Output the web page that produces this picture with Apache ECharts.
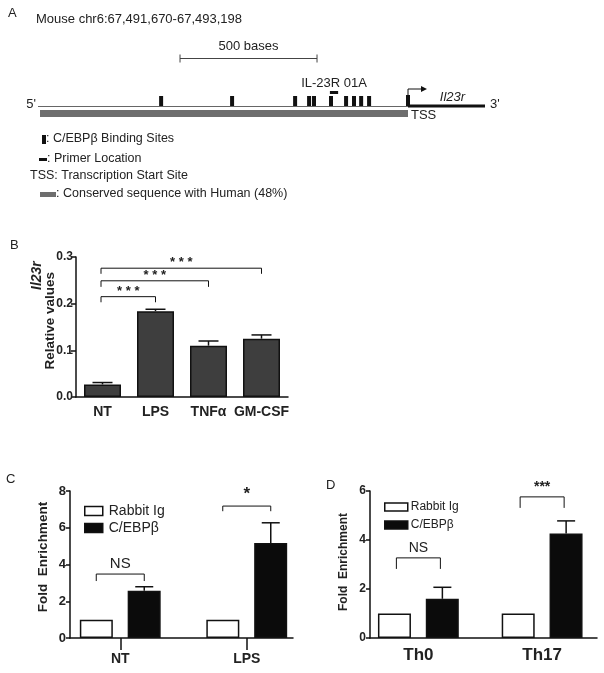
<!DOCTYPE html>
<html>
<head>
<meta charset="utf-8">
<script src="https://cdn.jsdelivr.net/npm/echarts@6/dist/echarts.min.js"></script>
<style>
html, body { margin: 0; padding: 0; background: #fff; }
#chart { width: 604px; height: 673px; }
</style>
</head>
<body>
<div id="chart"></div>
<script>
// ---- panel A: promoter map, positions in bases from chr6:67,491,670
var regionLabel = 'Mouse chr6:67,491,670-67,493,198'
var trackEnd = 1624
var tssPos = 1343
var bindingSites = [442, 701, 931, 982, 1000, 1062, 1117, 1146, 1172, 1201]
var primerSite = [1058, 1088]
var conservedSpan = [0, 1343]
var scaleBar = [511, 1011]

// ---- panel B: Il23r relative values
var bCats = ['NT', 'LPS', 'TNFα', 'GM-CSF']
var bMeans = [0.027, 0.184, 0.110, 0.125]
var bErr = [0.004, 0.004, 0.010, 0.008]
var bTicks = [0, 0.1, 0.2, 0.3]
var bBracketFrom = [0, 0, 0]
var bBracketTo = [1, 2, 3]
var bBracketTop = [0.215, 0.249, 0.276]
var bBracketLeg = [0.203, 0.236, 0.264]

// ---- panel C: ChIP, NT vs LPS
var cCats = ['NT', 'LPS']
var cRabbit = [1, 1]
var cCebpb = [2.57, 5.17]
var cCebpbErr = [0.22, 1.1]
var cSig = ['NS', '*']
var cBracketTop = [3.48, 7.18]
var cBracketLeg = [3.1, 6.9]

// ---- panel D: ChIP, Th0 vs Th17
var dCats = ['Th0', 'Th17']
var dRabbit = [1, 1]
var dCebpb = [1.6, 4.27]
var dCebpbErr = [0.47, 0.51]
var dSig = ['NS', '***']
var dBracketTop = [3.27, 5.76]
var dBracketLeg = [2.82, 5.31]

var FONT = 'Liberation Sans, Arial, sans-serif'
var INK = '#111'

var chart = echarts.init(document.getElementById('chart'))

function txt(x, y, text, size, extra) {
	var s = { text: text, fill: '#222', font: (extra && extra.weight || 'normal') + ' ' + size + 'px ' + FONT }
	s.textAlign = (extra && extra.align) || 'left'
	s.textVerticalAlign = 'middle'
	var el = { type: 'text', x: x, y: y, style: s }
	if (extra && extra.rotate) el.rotation = extra.rotate
	return el
}

// error bars on top of the black bars (offset = half bar + half gap)
function errRender(offset, cap) {
	return function (params, api) {
		var c = api.coord([api.value(0), api.value(1)])
		var t = api.coord([api.value(0), api.value(1) + api.value(2)])
		var x = c[0] + offset
		return {
			type: 'group',
			children: [
				{ type: 'line', shape: { x1: x, y1: c[1], x2: x, y2: t[1] }, style: { stroke: INK, lineWidth: 1.5 } },
				{ type: 'line', shape: { x1: x - cap / 2, y1: t[1], x2: x + cap / 2, y2: t[1] }, style: { stroke: INK, lineWidth: 1.5 } }
			]
		}
	}
}

// pair brackets inside one category
function pairBracket(tops, legs, labels, half, fonts) {
	return function (params, api) {
		var i = params.dataIndex
		var p = api.coord([i, tops[i]])
		var q = api.coord([i, legs[i]])
		var x1 = p[0] - half, x2 = p[0] + half
		return {
			type: 'group',
			children: [
				{ type: 'polyline', shape: { points: [[x1, q[1]], [x1, p[1]], [x2, p[1]], [x2, q[1]]] }, style: { stroke: INK, lineWidth: 1, fill: null } },
				{ type: 'text', x: p[0], y: p[1] - 3, style: { text: labels[i], font: fonts[i], fill: '#222', textAlign: 'center', textVerticalAlign: 'bottom' } }
			]
		}
	}
}

var legendCommon = {
	orient: 'vertical', icon: 'rect', selectedMode: false,
	data: ['Rabbit Ig', 'C/EBPβ'],
	itemStyle: { borderColor: INK, borderWidth: 1.5 }
}

var option = {
	animation: false,
	grid: [
		{ left: 40, width: 445, top: 56, height: 50 },
		{ left: 76, width: 212, top: 257, height: 140 },
		{ left: 70, width: 223, top: 491, height: 147 },
		{ left: 57, width: 253, top: 491, height: 147 },
		{ left: 370, width: 227, top: 491, height: 147 },
		{ left: 356.5, width: 256, top: 491, height: 147 }
	],
	xAxis: [
		{ gridIndex: 0, type: 'value', min: 0, max: trackEnd, show: false },
		{
			gridIndex: 1, type: 'category', data: bCats,
			axisLine: { lineStyle: { color: INK, width: 1.5 } },
			axisTick: { alignWithLabel: true, length: 4, lineStyle: { color: INK, width: 1.5 } },
			axisLabel: { interval: 0, color: '#222', fontFamily: FONT, fontWeight: 'bold', fontSize: 14, margin: 8 }
		},
		{
			gridIndex: 2, type: 'value', min: 0, max: 1,
			axisLine: { show: true, lineStyle: { color: INK, width: 1.5 } },
			axisTick: { show: false }, axisLabel: { show: false }, splitLine: { show: false }
		},
		{
			gridIndex: 3, type: 'category', data: cCats,
			axisLine: { show: false },
			axisTick: { show: true, interval: 0, alignWithLabel: true, length: 12, lineStyle: { color: INK, width: 1.5 } },
			axisLabel: { interval: 0, color: '#222', fontFamily: FONT, fontWeight: 'bold', fontSize: 14, margin: 14 }
		},
		{
			gridIndex: 4, type: 'value', min: 0, max: 1,
			axisLine: { show: true, lineStyle: { color: INK, width: 1.5 } },
			axisTick: { show: false }, axisLabel: { show: false }, splitLine: { show: false }
		},
		{
			gridIndex: 5, type: 'category', data: dCats,
			axisLine: { show: false }, axisTick: { show: false },
			axisLabel: { interval: 0, color: '#222', fontFamily: FONT, fontWeight: 'bold', fontSize: 17, margin: 9 }
		}
	],
	yAxis: [
		{ gridIndex: 0, type: 'value', min: 0, max: 1, show: false },
		{
			gridIndex: 1, type: 'value', min: bTicks[0], max: bTicks[bTicks.length - 1], interval: 0.1,
			axisLine: { show: true, lineStyle: { color: INK, width: 1.5 } },
			axisTick: { show: true, length: 5, lineStyle: { color: INK, width: 1.5 } },
			axisLabel: { color: '#222', fontFamily: FONT, fontWeight: 'bold', fontSize: 12, margin: 3, formatter: function (v) { return v.toFixed(1) } },
			splitLine: { show: false }
		},
		{
			gridIndex: 2, type: 'value', min: 0, max: 8, interval: 2,
			axisLine: { show: true, lineStyle: { color: INK, width: 1.5 } },
			axisTick: { show: true, length: 4, lineStyle: { color: INK, width: 1.5 } },
			axisLabel: { color: '#222', fontFamily: FONT, fontWeight: 'bold', fontSize: 13, margin: 4 },
			splitLine: { show: false }
		},
		{ gridIndex: 3, type: 'value', min: 0, max: 8, show: false },
		{
			gridIndex: 4, type: 'value', min: 0, max: 6, interval: 2,
			axisLine: { show: true, lineStyle: { color: INK, width: 1.5 } },
			axisTick: { show: true, length: 4, lineStyle: { color: INK, width: 1.5 } },
			axisLabel: { color: '#222', fontFamily: FONT, fontWeight: 'bold', fontSize: 12, margin: 4 },
			splitLine: { show: false }
		},
		{ gridIndex: 5, type: 'value', min: 0, max: 6, show: false }
	],
	legend: [
		Object.assign({}, legendCommon, {
			left: 79, top: 499, itemWidth: 18, itemHeight: 9, itemGap: 3,
			textStyle: { fontFamily: FONT, fontSize: 14, color: '#222', padding: [0, 0, 0, 1] }
		}),
		Object.assign({}, legendCommon, {
			left: 379, top: 496, itemWidth: 23, itemHeight: 8, itemGap: 6,
			textStyle: { fontFamily: FONT, fontSize: 12, color: '#222', padding: [0, 0, 0, -2] }
		})
	],
	series: [
		// ---- A: genomic track
		{
			type: 'custom', xAxisIndex: 0, yAxisIndex: 0, clip: false, silent: true,
			data: [[0, tssPos, trackEnd]],
			renderItem: function (params, api) {
				var a = api.coord([api.value(0), 0])
				var t = api.coord([api.value(1), 0])
				var e = api.coord([api.value(2), 0])
				return {
					type: 'group',
					children: [
						{ type: 'line', shape: { x1: a[0] - 2, y1: a[1] + 0.5, x2: t[0], y2: t[1] + 0.5 }, style: { stroke: '#666', lineWidth: 1 } },
						{ type: 'line', shape: { x1: t[0], y1: t[1], x2: e[0], y2: e[1] }, style: { stroke: INK, lineWidth: 3 } },
						{ type: 'text', x: a[0] - 4, y: a[1] - 2, style: { text: "5'", font: '13px ' + FONT, fill: '#222', textAlign: 'right', textVerticalAlign: 'middle' } },
						{ type: 'text', x: e[0] + 5, y: e[1] - 2, style: { text: "3'", font: '13px ' + FONT, fill: '#222', textAlign: 'left', textVerticalAlign: 'middle' } },
						{ type: 'text', x: (t[0] + e[0]) / 2 + 6, y: t[1] - 9, style: { text: 'Il23r', font: 'italic 13px ' + FONT, fill: '#222', textAlign: 'center', textVerticalAlign: 'middle' } }
					]
				}
			}
		},
		{
			type: 'custom', xAxisIndex: 0, yAxisIndex: 0, clip: false, silent: true,
			data: [conservedSpan],
			renderItem: function (params, api) {
				var a = api.coord([api.value(0), 0])
				var b = api.coord([api.value(1), 0])
				return {
					type: 'group',
					children: [
						{ type: 'rect', shape: { x: a[0], y: a[1] + 4, width: b[0] - a[0], height: 7 }, style: { fill: '#6e6e6e' } },
						{ type: 'text', x: b[0] + 3, y: b[1] + 9, style: { text: 'TSS', font: '13px ' + FONT, fill: '#222', textAlign: 'left', textVerticalAlign: 'middle' } }
					]
				}
			}
		},
		{
			type: 'custom', xAxisIndex: 0, yAxisIndex: 0, clip: false, silent: true,
			data: bindingSites.map(function (p) { return [p] }),
			renderItem: function (params, api) {
				var p = api.coord([api.value(0), 0])
				return { type: 'rect', shape: { x: p[0] - 2, y: p[1] - 10, width: 4, height: 10 }, style: { fill: INK } }
			}
		},
		{
			type: 'custom', xAxisIndex: 0, yAxisIndex: 0, clip: false, silent: true,
			data: [[tssPos]],
			renderItem: function (params, api) {
				var p = api.coord([api.value(0), 0])
				var x = p[0]
				return {
					type: 'group',
					children: [
						{ type: 'rect', shape: { x: x - 2, y: p[1] - 11, width: 4, height: 11 }, style: { fill: INK } },
						{ type: 'polyline', shape: { points: [[x, p[1] - 11], [x, p[1] - 17], [x + 14, p[1] - 17]] }, style: { stroke: INK, lineWidth: 1, fill: null } },
						{ type: 'polygon', shape: { points: [[x + 19, p[1] - 17], [x + 13, p[1] - 20], [x + 13, p[1] - 14]] }, style: { fill: INK } }
					]
				}
			}
		},
		{
			type: 'custom', xAxisIndex: 0, yAxisIndex: 0, clip: false, silent: true,
			data: [primerSite],
			renderItem: function (params, api) {
				var a = api.coord([api.value(0), 0])
				var b = api.coord([api.value(1), 0])
				return {
					type: 'group',
					children: [
						{ type: 'rect', shape: { x: a[0], y: a[1] - 15, width: b[0] - a[0], height: 3 }, style: { fill: INK } },
						{ type: 'text', x: (a[0] + b[0]) / 2, y: a[1] - 23, style: { text: 'IL-23R 01A', font: '13px ' + FONT, fill: '#222', textAlign: 'center', textVerticalAlign: 'middle' } }
					]
				}
			}
		},
		{
			type: 'custom', xAxisIndex: 0, yAxisIndex: 0, clip: false, silent: true,
			data: [scaleBar],
			renderItem: function (params, api) {
				var a = api.coord([api.value(0), 0])
				var b = api.coord([api.value(1), 0])
				var y = a[1] - 47.5
				return {
					type: 'group',
					children: [
						{ type: 'line', shape: { x1: a[0], y1: y, x2: b[0], y2: y }, style: { stroke: '#444', lineWidth: 1 } },
						{ type: 'line', shape: { x1: a[0], y1: y - 4, x2: a[0], y2: y + 4 }, style: { stroke: '#444', lineWidth: 1 } },
						{ type: 'line', shape: { x1: b[0], y1: y - 4, x2: b[0], y2: y + 4 }, style: { stroke: '#444', lineWidth: 1 } },
						{ type: 'text', x: (a[0] + b[0]) / 2, y: y - 12, style: { text: '500 bases', font: '13px ' + FONT, fill: '#222', textAlign: 'center', textVerticalAlign: 'middle' } }
					]
				}
			}
		},

		// ---- B
		{
			type: 'bar', xAxisIndex: 1, yAxisIndex: 1, data: bMeans, barWidth: 37,
			itemStyle: { color: '#3e3e3e', borderColor: INK, borderWidth: 1.5 }, silent: true
		},
		{
			type: 'custom', xAxisIndex: 1, yAxisIndex: 1, clip: false, silent: true,
			data: bMeans.map(function (m, i) { return [i, m, bErr[i]] }),
			renderItem: errRender(0, 20)
		},
		{
			type: 'custom', xAxisIndex: 1, yAxisIndex: 1, clip: false, silent: true,
			data: bBracketTop.map(function (t, i) { return [bBracketFrom[i], bBracketTo[i], t, bBracketLeg[i]] }),
			renderItem: function (params, api) {
				var p1 = api.coord([api.value(0), api.value(2)])
				var p2 = api.coord([api.value(1), api.value(2)])
				var l1 = api.coord([api.value(0), api.value(3)])
				var x1 = p1[0] - 1.5, x2 = p2[0]
				return {
					type: 'group',
					children: [
						{ type: 'polyline', shape: { points: [[x1, l1[1]], [x1, p1[1]], [x2, p1[1]], [x2, l1[1]]] }, style: { stroke: INK, lineWidth: 1, fill: null } },
						{ type: 'text', x: (x1 + x2) / 2, y: p1[1] + 1, style: { text: '* * *', font: 'bold 13px ' + FONT, fill: '#222', textAlign: 'center', textVerticalAlign: 'bottom' } }
					]
				}
			}
		},

		// ---- C
		{
			name: 'Rabbit Ig', type: 'bar', xAxisIndex: 3, yAxisIndex: 3, data: cRabbit, barWidth: 33, barGap: '45%',
			itemStyle: { color: '#fff', borderColor: INK, borderWidth: 1.5 }, silent: true
		},
		{
			name: 'C/EBPβ', type: 'bar', xAxisIndex: 3, yAxisIndex: 3, data: cCebpb, barWidth: 33, barGap: '45%',
			itemStyle: { color: '#0b0b0b', borderColor: INK, borderWidth: 1.5 }, silent: true
		},
		{
			type: 'custom', xAxisIndex: 3, yAxisIndex: 3, clip: false, silent: true,
			data: cCebpb.map(function (m, i) { return [i, m, cCebpbErr[i]] }),
			renderItem: errRender(24, 18)
		},
		{
			type: 'custom', xAxisIndex: 3, yAxisIndex: 3, clip: false, silent: true,
			data: cSig.map(function (s, i) { return [i, cBracketTop[i]] }),
			renderItem: pairBracket(cBracketTop, cBracketLeg, cSig, 24, ['15px ' + FONT, 'bold 17px ' + FONT])
		},

		// ---- D
		{
			name: 'Rabbit Ig', type: 'bar', xAxisIndex: 5, yAxisIndex: 5, data: dRabbit, barWidth: 33, barGap: '45%',
			itemStyle: { color: '#fff', borderColor: INK, borderWidth: 1.5 }, silent: true
		},
		{
			name: 'C/EBPβ', type: 'bar', xAxisIndex: 5, yAxisIndex: 5, data: dCebpb, barWidth: 33, barGap: '45%',
			itemStyle: { color: '#0b0b0b', borderColor: INK, borderWidth: 1.5 }, silent: true
		},
		{
			type: 'custom', xAxisIndex: 5, yAxisIndex: 5, clip: false, silent: true,
			data: dCebpb.map(function (m, i) { return [i, m, dCebpbErr[i]] }),
			renderItem: errRender(24, 18)
		},
		{
			type: 'custom', xAxisIndex: 5, yAxisIndex: 5, clip: false, silent: true,
			data: dSig.map(function (s, i) { return [i, dBracketTop[i]] }),
			renderItem: pairBracket(dBracketTop, dBracketLeg, dSig, 22, ['14px ' + FONT, 'bold 14px ' + FONT])
		}
	],
	graphic: [
		txt(8, 13, 'A', 13),
		txt(36, 19, regionLabel, 13),
		// panel A key
		{ type: 'rect', shape: { x: 42, y: 135, width: 4, height: 9 }, style: { fill: INK } },
		txt(46, 139, ': C/EBPβ Binding Sites', 12.5),
		{ type: 'rect', shape: { x: 39, y: 158, width: 8, height: 3 }, style: { fill: INK } },
		txt(47, 159, ': Primer Location', 12.5),
		txt(30, 176, 'TSS: Transcription Start Site', 12.5),
		{ type: 'rect', shape: { x: 40, y: 192, width: 16, height: 5 }, style: { fill: '#6e6e6e' } },
		txt(56, 194, ': Conserved sequence with Human (48%)', 12.5),

		txt(10, 245, 'B', 13),
		txt(37, 290, 'Il23r', 14, { weight: 'italic bold', align: 'left', rotate: Math.PI / 2 }),
		txt(50, 272, 'Relative values', 13.5, { weight: 'bold', align: 'right', rotate: Math.PI / 2 }),

		txt(6, 479, 'C', 13),
		txt(43, 557, 'Fold  Enrichment', 13.5, { weight: 'bold', align: 'center', rotate: Math.PI / 2 }),

		txt(326, 485, 'D', 13),
		txt(344, 562, 'Fold  Enrichment', 12, { weight: 'bold', align: 'center', rotate: Math.PI / 2 })
	]
}

chart.setOption(option)
</script>
</body>
</html>
